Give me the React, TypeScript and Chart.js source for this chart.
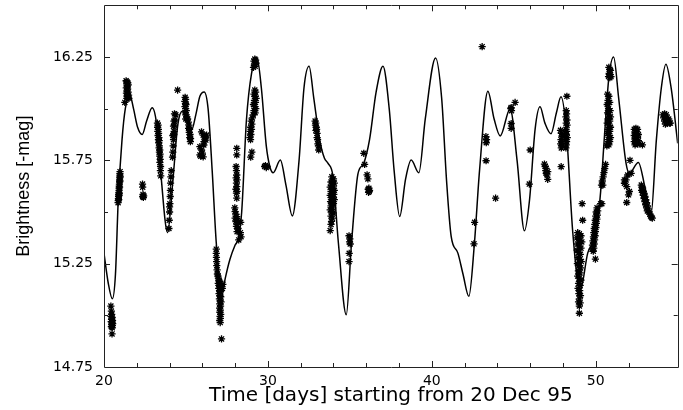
import React, { useEffect, useRef } from "react";
import { Chart, registerables } from "chart.js";

Chart.register(...registerables);

// Model light curve (fit), time in days, brightness in -mag
const curveT = [
  20.0, 20.25, 20.51, 20.7, 20.87, 21.1, 21.3, 21.58, 21.8, 22.05, 22.33, 22.6, 22.94,
  23.2, 23.45, 23.88, 24.2, 24.5, 24.79, 25.05, 25.34, 25.6, 25.85, 26.11, 26.35, 26.6,
  26.85, 27.17, 27.4, 27.68, 28.0, 28.19, 28.4, 28.69, 29.0, 29.34, 29.6, 29.9, 30.12,
  30.32, 30.76, 31.1, 31.49, 31.9, 32.2, 32.51, 32.8, 33.16, 33.45, 33.67, 33.97, 34.3,
  34.78, 35.1, 35.49, 35.84, 36.2, 36.6, 37.02, 37.4, 37.7, 38.04, 38.4, 38.74, 39.21,
  39.6, 40.23, 40.6, 40.9, 41.18, 41.59, 41.9, 42.26, 42.6, 42.91, 43.42, 43.8, 44.17,
  44.78, 45.2, 45.65, 45.96, 46.3, 46.6, 46.9, 47.27, 47.6, 47.88, 48.2, 48.6, 49.05,
  49.51, 50.02, 50.3, 50.53, 50.8, 51.09, 51.4, 51.85, 52.05, 52.6, 53.0, 53.37, 53.7,
  54.0, 54.28, 54.6, 55.0,
];
const curveM = [
  15.3, 15.16, 15.08, 15.2, 15.56, 15.85, 16.0, 16.065, 16.0, 15.91, 15.875, 15.94, 16.004,
  15.93, 15.7, 15.4, 15.65, 15.92, 15.988, 15.94, 15.896, 15.97, 16.06, 16.081, 16.0, 15.7,
  15.35, 15.09, 15.18, 15.27, 15.34, 15.37, 15.5, 15.945, 16.17, 16.242, 16.1, 15.82, 15.719,
  15.69, 15.751, 15.63, 15.481, 15.75, 16.1, 16.205, 16.05, 15.848, 15.76, 15.735, 15.671, 15.35,
  15.003, 15.35, 15.683, 15.735, 15.85, 16.08, 16.205, 16.0, 15.7, 15.478, 15.66, 15.751, 15.69,
  15.95, 16.245, 16.05, 15.65, 15.382, 15.301, 15.2, 15.092, 15.35, 15.7, 16.084, 15.95, 15.868,
  16.0, 15.75, 15.409, 15.558, 15.9, 16.009, 15.93, 15.879, 15.98, 16.057, 15.9, 15.4, 15.12,
  15.301, 15.398, 15.6, 15.865, 16.15, 16.25, 16.05, 15.735, 15.687, 15.74, 15.62, 15.486, 15.85,
  16.1, 16.215, 16.1, 15.832,
];

// Observations [time, brightness]
const obsA: number[][] = [
  [20.42, 15.045], [20.45, 15.02], [20.47, 15.005], [20.43, 14.995], [20.5, 14.99], [20.46, 14.98],
  [20.52, 14.975], [20.44, 14.97], [20.49, 14.965], [20.53, 14.96], [20.47, 14.955], [20.51, 14.95],
  [20.45, 14.945], [20.5, 14.94], [20.49, 14.91],
];
const obsB: number[][] = [
  [20.86, 15.545], [20.87, 15.555], [20.88, 15.565], [20.89, 15.575], [20.9, 15.585], [20.91, 15.595],
  [20.92, 15.605], [20.92, 15.615], [20.93, 15.625], [20.94, 15.635], [20.95, 15.645], [20.95, 15.655],
  [20.96, 15.665], [20.97, 15.675], [20.97, 15.685], [20.98, 15.695], [20.9, 15.56], [20.93, 15.59],
  [20.95, 15.62], [20.97, 15.65], [20.99, 15.67], [20.92, 15.58],
];
const obsC: number[][] = [
  [21.35, 16.135], [21.4, 16.13], [21.45, 16.125], [21.38, 16.12], [21.42, 16.11], [21.48, 16.115],
  [21.36, 16.1], [21.44, 16.095], [21.4, 16.085], [21.47, 16.08], [21.37, 16.075], [21.43, 16.07],
  [21.5, 16.065], [21.41, 16.06], [21.46, 16.055], [21.39, 16.05], [21.52, 16.05], [21.27, 16.03],
  [22.35, 15.635], [22.36, 15.62], [22.38, 15.585], [22.42, 15.578], [22.36, 15.575], [22.4, 15.57],
];
const obsE: number[][] = [
  [23.26, 15.93], [23.3, 15.92], [23.27, 15.91], [23.32, 15.9], [23.28, 15.89], [23.33, 15.88],
  [23.3, 15.87], [23.35, 15.86], [23.32, 15.85], [23.37, 15.845], [23.34, 15.835], [23.38, 15.82],
  [23.36, 15.81], [23.4, 15.8], [23.38, 15.79], [23.42, 15.78], [23.4, 15.77], [23.43, 15.755],
  [23.41, 15.74], [23.45, 15.72], [23.44, 15.7], [23.46, 15.675],
];
const obsF: number[][] = [
  [23.96, 15.42], [23.98, 15.46], [24.0, 15.5], [24.0, 15.525], [24.02, 15.54], [24.04, 15.575],
  [24.05, 15.605], [24.06, 15.64], [24.08, 15.67], [24.1, 15.7], [24.18, 15.765], [24.2, 15.79],
  [24.22, 15.82], [24.24, 15.85], [24.2, 15.87], [24.26, 15.875], [24.28, 15.89], [24.24, 15.915],
  [24.3, 15.92], [24.27, 15.94], [24.33, 15.945], [24.3, 15.975], [24.38, 15.97], [24.49, 16.09],
];
const obsG: number[][] = [
  [24.95, 16.055], [24.98, 16.045], [24.93, 16.035], [24.97, 16.025], [25.0, 16.02], [24.94, 16.01],
  [24.98, 16.0], [25.02, 15.99], [24.96, 15.98], [25.0, 15.97], [25.05, 15.96], [24.99, 15.95],
  [25.1, 15.95], [25.14, 15.935], [25.18, 15.92], [25.16, 15.905], [25.22, 15.9], [25.2, 15.885],
  [25.25, 15.875], [25.23, 15.86], [25.28, 15.855], [25.27, 15.84],
];
const obsI: number[][] = [
  [25.95, 15.888], [26.05, 15.872], [26.15, 15.864], [26.26, 15.872], [26.21, 15.848], [26.09, 15.824],
  [25.85, 15.816], [25.95, 15.8], [25.85, 15.776], [26.05, 15.767], [25.9, 15.77], [26.0, 15.785],
  [26.18, 15.858], [26.1, 15.84],
];
const obsJ: number[][] = [
  [26.85, 15.32], [26.85, 15.3], [26.86, 15.28], [26.87, 15.26], [26.88, 15.24], [26.9, 15.22],
  [26.92, 15.2], [26.95, 15.19], [26.98, 15.18], [27.0, 15.17], [27.05, 15.165], [26.97, 15.155],
  [27.02, 15.145], [27.08, 15.14], [27.0, 15.13], [27.05, 15.12], [27.1, 15.115], [27.02, 15.105],
  [27.07, 15.095], [27.12, 15.09], [27.04, 15.08], [27.09, 15.07], [27.14, 15.065], [27.06, 15.055],
  [27.11, 15.045], [27.05, 15.035], [27.1, 15.025], [27.07, 15.015], [27.12, 15.005], [27.08, 14.995],
  [27.1, 14.985], [27.06, 14.975], [27.09, 14.965], [27.17, 14.886], [27.25, 15.15], [27.22, 15.13],
];
const obsK: number[][] = [
  [28.1, 15.808], [28.1, 15.776], [28.06, 15.72], [28.08, 15.7], [28.1, 15.679], [28.06, 15.665],
  [28.12, 15.655], [28.08, 15.64], [28.1, 15.623], [28.05, 15.61], [28.12, 15.6], [28.08, 15.591],
  [28.1, 15.567], [27.98, 15.52], [28.0, 15.502], [28.04, 15.49], [28.1, 15.478], [28.0, 15.47],
  [28.15, 15.46], [28.05, 15.454], [28.12, 15.44], [28.08, 15.43], [28.18, 15.42], [28.12, 15.405],
  [28.22, 15.365], [28.32, 15.4], [28.34, 15.45], [28.36, 15.38],
];
const obsL: number[][] = [
  [29.15, 16.23], [29.2, 16.24], [29.25, 16.235], [29.18, 16.215], [29.22, 16.205], [29.28, 16.22],
  [29.12, 16.2], [29.2, 16.09], [29.25, 16.08], [29.15, 16.07], [29.22, 16.06], [29.28, 16.05],
  [29.18, 16.04], [29.24, 16.03], [29.12, 16.02], [29.2, 16.01], [29.26, 16.0], [29.15, 15.99],
  [29.22, 15.98], [29.1, 15.97], [29.05, 15.955], [28.98, 15.94], [29.02, 15.925], [28.95, 15.91],
  [29.0, 15.9], [28.92, 15.89], [28.96, 15.875], [28.9, 15.86], [28.94, 15.85], [29.02, 15.79],
  [28.95, 15.765], [29.8, 15.72], [29.85, 15.725], [29.9, 15.715], [29.95, 15.72],
];
const obsN: number[][] = [
  [32.88, 15.94], [32.92, 15.93], [32.9, 15.92], [32.95, 15.91], [32.97, 15.9], [32.93, 15.895],
  [33.0, 15.88], [33.0, 15.86], [33.03, 15.85], [33.05, 15.83], [33.08, 15.82], [33.1, 15.8],
];
const obsO: number[][] = [
  [33.9, 15.67], [34.0, 15.66], [33.95, 15.65], [33.85, 15.645], [34.05, 15.64], [33.9, 15.63],
  [34.0, 15.625], [33.8, 15.62], [33.95, 15.61], [34.05, 15.605], [33.85, 15.6], [33.92, 15.59],
  [34.02, 15.585], [33.8, 15.58], [33.88, 15.57], [33.97, 15.565], [34.05, 15.56], [33.82, 15.55],
  [33.9, 15.545], [34.0, 15.54], [33.85, 15.53], [33.95, 15.52], [33.8, 15.51], [33.9, 15.5],
  [33.98, 15.495], [33.85, 15.48], [33.93, 15.47], [33.88, 15.455], [33.85, 15.44], [33.8, 15.41],
];
const obsP: number[][] = [
  [34.95, 15.385], [35.0, 15.37], [34.98, 15.355], [35.02, 15.345], [34.96, 15.3], [34.95, 15.26],
  [35.85, 15.784], [35.9, 15.73], [36.05, 15.68], [36.1, 15.66], [36.12, 15.61], [36.18, 15.6],
  [36.14, 15.595], [36.2, 15.605], [36.16, 15.615],
];
const obsS: number[][] = [
  [43.07, 16.3], [43.3, 15.865], [43.34, 15.85], [43.32, 15.835], [43.31, 15.748], [43.89, 15.567],
  [42.61, 15.45], [42.57, 15.346], [44.82, 16.0], [44.86, 15.99], [44.84, 16.005], [45.08, 16.03],
  [44.84, 15.928], [44.84, 15.905], [45.95, 15.635], [46.0, 15.8],
  [46.87, 15.732], [46.92, 15.72], [46.97, 15.711], [46.95, 15.7], [47.07, 15.695], [46.98, 15.687],
  [47.02, 15.68], [47.07, 15.658], [47.89, 15.719],
];
const obsT: number[][] = [
  [48.24, 16.06], [48.2, 15.99], [48.22, 15.975], [48.18, 15.96], [48.24, 15.945], [48.2, 15.93],
  [48.25, 15.92], [48.18, 15.9], [48.22, 15.89], [48.2, 15.875], [48.26, 15.86], [48.15, 15.85],
  [48.22, 15.84], [48.2, 15.825], [48.18, 15.81], [47.85, 15.895], [47.9, 15.88], [47.95, 15.865],
  [47.88, 15.85], [47.93, 15.84], [47.86, 15.83], [47.95, 15.82], [47.9, 15.81], [48.0, 15.875],
];
const obsU: number[][] = [
  [48.9, 15.4], [49.0, 15.395], [49.1, 15.385], [48.85, 15.375], [48.95, 15.37], [49.05, 15.36],
  [49.15, 15.355], [48.9, 15.345], [49.0, 15.335], [49.1, 15.325], [48.86, 15.315], [48.96, 15.305],
  [49.06, 15.295], [48.92, 15.28], [49.02, 15.27], [49.12, 15.26], [48.88, 15.25], [48.98, 15.24],
  [49.08, 15.23], [48.94, 15.215], [49.04, 15.205], [48.9, 15.19], [49.0, 15.18], [49.1, 15.17],
  [48.95, 15.155], [49.05, 15.145], [48.92, 15.13], [49.02, 15.12], [48.97, 15.105], [49.07, 15.095],
  [49.0, 15.08], [48.95, 15.065], [49.05, 15.06], [49.0, 15.045], [49.0, 15.01], [49.17, 15.54],
  [49.2, 15.46],
];
const obsV: number[][] = [
  [49.78, 15.32], [49.88, 15.325], [49.8, 15.34], [49.9, 15.345], [49.83, 15.36], [49.93, 15.365],
  [49.86, 15.38], [49.96, 15.385], [49.88, 15.4], [49.98, 15.405], [49.91, 15.42], [50.01, 15.425],
  [49.94, 15.44], [50.04, 15.445], [49.97, 15.46], [50.07, 15.465], [50.0, 15.48], [50.1, 15.485],
  [50.03, 15.5], [50.12, 15.505], [50.08, 15.52], [49.98, 15.272], [49.85, 15.31], [50.3, 15.54],
  [50.37, 15.54],
];
const obsW: number[][] = [
  [50.35, 15.63], [50.4, 15.65], [50.45, 15.67], [50.5, 15.69], [50.55, 15.71], [50.6, 15.73],
  [50.43, 15.63], [50.8, 16.2], [50.85, 16.19], [50.9, 16.185], [50.82, 16.17], [50.88, 16.165],
  [50.78, 16.155], [50.86, 16.15], [50.93, 16.155], [50.72, 16.07], [50.8, 16.06], [50.75, 16.04],
  [50.85, 16.03], [50.7, 16.02], [50.78, 16.0], [50.88, 15.99], [50.72, 15.98], [50.8, 15.97],
  [50.9, 15.96], [50.75, 15.95], [50.85, 15.94], [50.7, 15.93], [50.8, 15.92], [50.9, 15.91],
  [50.75, 15.9], [50.85, 15.89], [50.72, 15.88], [50.8, 15.87], [50.9, 15.86], [50.76, 15.85],
  [50.85, 15.84], [50.72, 15.83], [50.8, 15.825], [50.68, 15.82],
];
const obsX: number[][] = [
  [52.09, 15.75], [51.85, 15.655], [51.95, 15.679], [52.05, 15.599], [51.89, 15.623], [51.75, 15.655],
  [52.0, 15.583], [51.89, 15.546], [51.75, 15.639], [52.16, 15.687],
  [52.35, 15.9], [52.45, 15.895], [52.55, 15.9], [52.4, 15.885], [52.5, 15.88], [52.6, 15.875],
  [52.35, 15.87], [52.45, 15.865], [52.55, 15.86], [52.4, 15.855], [52.5, 15.85], [52.6, 15.845],
  [52.35, 15.84], [52.45, 15.835], [52.55, 15.83], [52.65, 15.83], [52.4, 15.825], [52.85, 15.825],
  [52.45, 15.905],
];
const obsY: number[][] = [
  [52.78, 15.63], [52.82, 15.62], [52.86, 15.615], [52.8, 15.605], [52.9, 15.6], [52.85, 15.595],
  [52.95, 15.59], [52.9, 15.58], [53.0, 15.575], [52.95, 15.565], [53.05, 15.56], [53.0, 15.55],
  [53.1, 15.545], [53.05, 15.535], [53.15, 15.53], [53.1, 15.52], [53.2, 15.515], [53.15, 15.505],
  [53.25, 15.5], [53.3, 15.49], [53.35, 15.48], [53.4, 15.475], [53.45, 15.47],
  [54.1, 15.97], [54.2, 15.975], [54.3, 15.97], [54.15, 15.955], [54.25, 15.96], [54.35, 15.955],
  [54.45, 15.95], [54.2, 15.94], [54.3, 15.945], [54.4, 15.935], [54.5, 15.93], [54.55, 15.93],
  [54.25, 15.925], [54.35, 15.93],
];

const observations = [
  obsA, obsB, obsC, obsE, obsF, obsG, obsI, obsJ, obsK, obsL, obsN, obsO, obsP, obsS, obsT,
  obsU, obsV, obsW, obsX, obsY,
];

const xMin = 20;
const xMax = 55;
const yMin = 14.75;
const yMax = 16.5;
const xTitle = "Time [days] starting from 20 Dec 95";
const yTitle = "Brightness [-mag]";

const frameTicks = {
  id: "frameTicks",
  afterDraw(chart: any) {
    const { ctx, chartArea } = chart;
    const { left, right, top, bottom } = chartArea;
    const xs = chart.scales.x;
    const ys = chart.scales.y;
    ctx.save();
    ctx.strokeStyle = "#222";
    ctx.lineWidth = 1;
    ctx.beginPath();
    ctx.rect(Math.round(left) + 0.5, Math.round(top) + 0.5, Math.round(right - left), Math.round(bottom - top));
    ctx.stroke();
    ctx.beginPath();
    xs.ticks.forEach((t: any) => {
      const v = t.value;
      if (v <= xMin || v >= xMax) return;
      const px = Math.round(xs.getPixelForValue(v)) + 0.5;
      const len = v % 10 === 0 ? 6 : 4;
      ctx.moveTo(px, bottom);
      ctx.lineTo(px, bottom - len);
      ctx.moveTo(px, top);
      ctx.lineTo(px, top + len);
    });
    ys.ticks.forEach((t: any) => {
      const v = t.value;
      if (v <= yMin + 1e-6 || v >= yMax - 1e-6) return;
      const py = Math.round(ys.getPixelForValue(v)) + 0.5;
      const k = Math.round(v * 100);
      const len = (k - 1475) % 50 === 0 ? 6 : 4;
      ctx.moveTo(left, py);
      ctx.lineTo(left + len, py);
      ctx.moveTo(right, py);
      ctx.lineTo(right - len, py);
    });
    ctx.stroke();
    ctx.restore();
  },
};

export default function App() {
  const ref = useRef<HTMLCanvasElement | null>(null);
  useEffect(() => {
    if (!ref.current) return;
    const obsData: { x: number; y: number }[] = [];
    observations.forEach((group) => group.forEach((p) => obsData.push({ x: p[0], y: p[1] })));
    const chart = new Chart(ref.current, {
      type: "scatter",
      data: {
        datasets: [
          {
            data: curveT.map((t, i) => ({ x: t, y: curveM[i] })),
            showLine: true,
            borderColor: "#000",
            borderWidth: 1.5,
            pointRadius: 0,
            cubicInterpolationMode: "monotone",
            fill: false,
          } as any,
          {
            data: obsData,
            pointStyle: "star",
            pointRadius: 3.6,
            borderColor: "#000",
            backgroundColor: "#000",
            borderWidth: 1.3,
          } as any,
        ],
      },
      options: {
        responsive: false,
        animation: false,
        devicePixelRatio: 1,
        layout: { padding: { top: 5, right: 5, left: 0, bottom: 0 } },
        plugins: { legend: { display: false }, tooltip: { enabled: false } },
        scales: {
          x: {
            type: "linear",
            min: xMin,
            max: xMax,
            grid: { display: false, drawTicks: false },
            border: { display: false },
            ticks: {
              stepSize: 2,
              autoSkip: false,
              maxRotation: 0,
              padding: 6,
              color: "#000",
              font: { family: "DejaVu Sans", size: 14 },
              callback: (v: any) => (Number(v) % 10 === 0 ? String(v) : ""),
            },
            title: {
              display: true,
              text: xTitle,
              color: "#000",
              font: { family: "DejaVu Sans", size: 20 },
              padding: { top: 0, bottom: 2 },
            },
            afterFit: (s: any) => {
              s.height = 43;
              s.paddingLeft = 0;
              s.paddingRight = 0;
            },
          },
          y: {
            type: "linear",
            min: yMin,
            max: yMax,
            grid: { display: false, drawTicks: false },
            border: { display: false },
            ticks: {
              stepSize: 0.25,
              autoSkip: false,
              padding: 11,
              color: "#000",
              font: { family: "DejaVu Sans", size: 14 },
              callback: (v: any) => {
                const k = Math.round(Number(v) * 100);
                return (k - 1475) % 50 === 0 && k < 1650 ? Number(v).toFixed(2) : "";
              },
            },
            title: {
              display: true,
              text: yTitle,
              color: "#000",
              font: { family: "Liberation Sans", size: 18 },
              padding: { top: 13, bottom: 0 },
            },
            afterFit: (s: any) => {
              s.width = 104;
              s.paddingTop = 0;
              s.paddingBottom = 0;
            },
          },
        },
      },
      plugins: [frameTicks],
    });
    return () => chart.destroy();
  }, []);
  return (
    <div style={{ position: "absolute", left: 0, top: 0, width: 683, height: 410, background: "#fff" }}>
      <canvas ref={ref} width={683} height={410} />
    </div>
  );
}
